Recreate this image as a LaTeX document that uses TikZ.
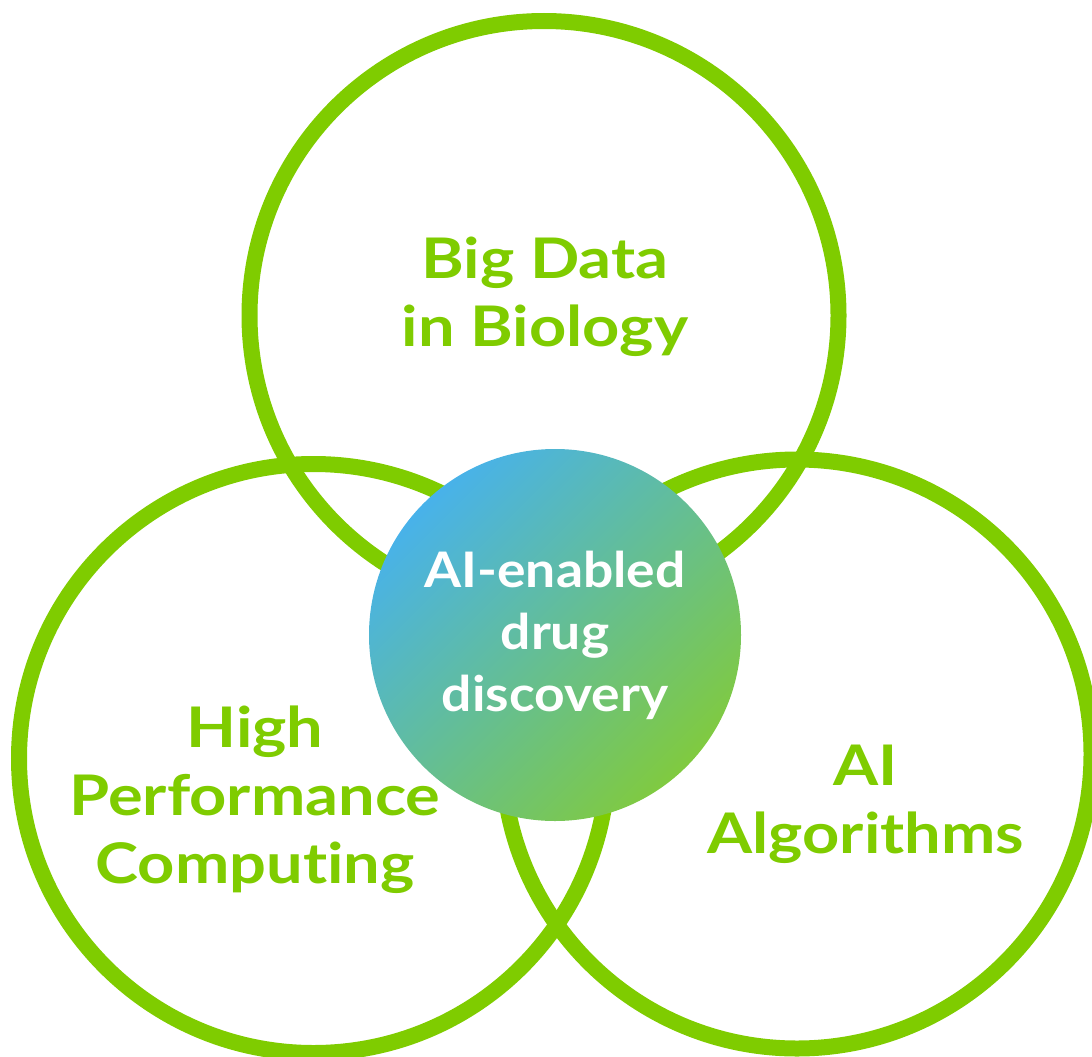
\documentclass[tikz,border=0pt]{standalone}
\usepackage{fontspec}
\setmainfont{Lato}[Ligatures=NoCommon,FakeStretch=1.16]
\newfontfamily\hubfont{Lato}[Ligatures=NoCommon,FakeStretch=1.09]
\usepackage{xcolor}
\usepackage{tikz}
\usetikzlibrary{shadings}
\definecolor{cRingL}{HTML}{7FCC00}
\definecolor{cHubA}{HTML}{48B2EA}
\definecolor{cHubB}{HTML}{80CA40}

\begin{document}
\begin{tikzpicture}[x=1pt,y=-1pt,
  ring/.style={circle,draw=cRingL,line width=16pt,minimum size=589pt,inner sep=0pt},
  lbl/.style={font=\bfseries\fontsize{56}{68}\selectfont,text=cRingL,align=center,inner sep=0pt},
  hub/.style={circle,minimum size=372pt,inner sep=0pt,shade,top color=cHubA,bottom color=cHubB,
    shading angle=45,font=\hubfont\bfseries\fontsize{49}{62}\selectfont,text=white,align=center}]

  \useasboundingbox (0,0) rectangle (1092,1057);

  \foreach \n/\x/\y/\lx/\ly/\t in {
    bio/544/315.5/545/297/{Big Data\\in Biology},
    hpc/313.5/758.5/255/800/{High\\Performance\\Computing},
    alg/797/754/866/804/{AI\\Algorithms}}
    {\node[ring] (\n) at (\x,\y) {};
     \node[lbl] (\n-t) at (\lx,\ly) {\t};}

  \node[hub] (hub) at (555,635) {AI-enabled\\drug\\discovery};
\end{tikzpicture}
\end{document}
